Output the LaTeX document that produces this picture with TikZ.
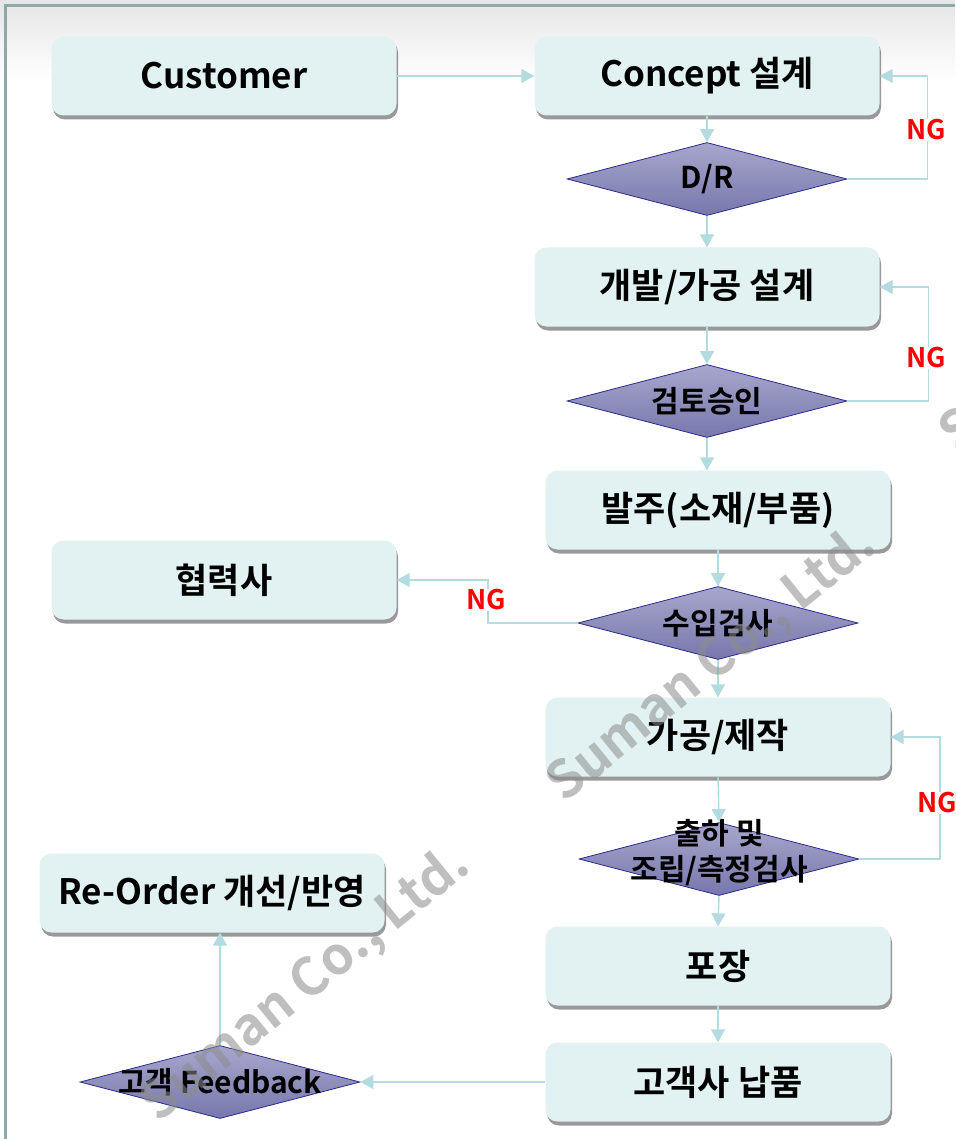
\documentclass[tikz,border=0pt]{standalone}
\usepackage{fontspec}
\setmainfont{Noto Sans CJK KR}[BoldFont={Noto Sans CJK KR Bold}]
\usetikzlibrary{arrows.meta, shapes.geometric, shadows}

\definecolor{boxfill}{HTML}{E2F2F3}
\definecolor{linecol}{HTML}{B3DCE0}
\definecolor{dtop}{HTML}{A7A7CC}
\definecolor{dbot}{HTML}{7777AD}
\definecolor{dedge}{HTML}{2B2B8C}
\definecolor{framecol}{HTML}{8FA8AA}

\begin{document}
\begin{tikzpicture}[x=1pt, y=-1pt,
  box/.style={rounded corners=12pt, fill=boxfill, minimum width=345pt, minimum height=79pt,
    font=\bfseries\fontsize{35}{40}\selectfont,
    drop shadow={shadow xshift=1.5pt, shadow yshift=-4pt, fill=black, opacity=.4}},
  decision/.style={diamond, minimum width=280pt, minimum height=73pt, inner sep=0pt,
    draw=dedge, line width=.8pt, top color=dtop, bottom color=dbot},
  dtext/.style={anchor=center, align=center, font=\bfseries\fontsize{30}{36}\selectfont},
  flow/.style={draw=linecol, line width=1.4pt, -{Triangle[length=13pt, width=14pt]}},
  ng/.style={text=red, fill=white, inner sep=1pt, font=\bfseries\fontsize{27}{27}\selectfont},
  wmark/.style={text=black!45, opacity=.55, rotate=39, font=\bfseries\fontsize{52}{52}\selectfont}]

\useasboundingbox (0,0) rectangle (955,1139);
\fill[white] (0,0) rectangle (955,1139);
\shade[top color=black!10, bottom color=white] (0,0) rectangle (955,80);
\draw[framecol, line width=2.5pt] (5.5,1139) -- (5.5,5.5) -- (955,5.5);

% boxes
\node[box] (customer) at (224,76) {Customer};
\node[box] (concept) at (707,76) {Concept 설계};
\node[box] (design) at (707,287) {개발/가공 설계};
\node[box] (order) at (718,510) {발주(소재/부품)};
\node[box] (partner) at (224,580) {협력사};
\node[box] (make) at (718,737) {가공/제작};
\node[box] (reorder) at (212,893) {Re-Order 개선/반영};
\node[box] (pack) at (718,966) {포장};
\node[box] (deliver) at (718,1082) {고객사 납품};

% decisions
\node[decision, label={[dtext]center:D/R}] (dr) at (707,179) {};
\node[decision, label={[dtext]center:검토승인}] (review) at (707,401) {};
\node[decision, label={[dtext]center:수입검사}] (inspect) at (718,623) {};
\node[decision, label={[dtext, yshift=6pt]center:출하 및\\조립/측정검사}] (ship) at (719,859) {};
\node[decision, label={[dtext]center:고객 Feedback}] (feedback) at (220,1082) {};

% main flow
\draw[flow] (customer.east) -- (concept.west);
\draw[flow] (concept.south) -- (dr.north);
\draw[flow] (dr.south) -- (design.north);
\draw[flow] (design.south) -- (review.north);
\draw[flow] (review.south) -- (review.south |- order.north);
\draw[flow] (order.south) -- (inspect.north);
\draw[flow] (inspect.south) -- (make.north);
\draw[flow] (make.south) -- (ship.north);
\draw[flow] (ship.south) -- (pack.north);
\draw[flow] (pack.south) -- (deliver.north);
\draw[flow] (deliver.west) -- (feedback.east);
\draw[flow] (feedback.north) -- (feedback.north |- reorder.south);

% NG loops
\draw[flow] (dr.east) -- ++(80,0) |- (concept.east);
\draw[flow] (review.east) -- ++(81,0) |- (design.east);
\draw[flow] (inspect.west) -- (488,623) |- (partner.east);
\draw[flow] (ship.east) -- (940,859) |- (make.east);
\node[ng] (ng1) at (926,130) {NG};
\node[ng] (ng2) at (926,358) {NG};
\node[ng] (ng3) at (486,600) {NG};
\node[ng] (ng4) at (937,803) {NG};

% watermark
\node[wmark] (wm1) at (712,665) {Suman Co., Ltd.};
\node[wmark] (wm2) at (306,985) {Suman Co., Ltd.};
\node[wmark] (wm3) at (1105,315) {Suman Co., Ltd.};

\end{tikzpicture}
\end{document}
